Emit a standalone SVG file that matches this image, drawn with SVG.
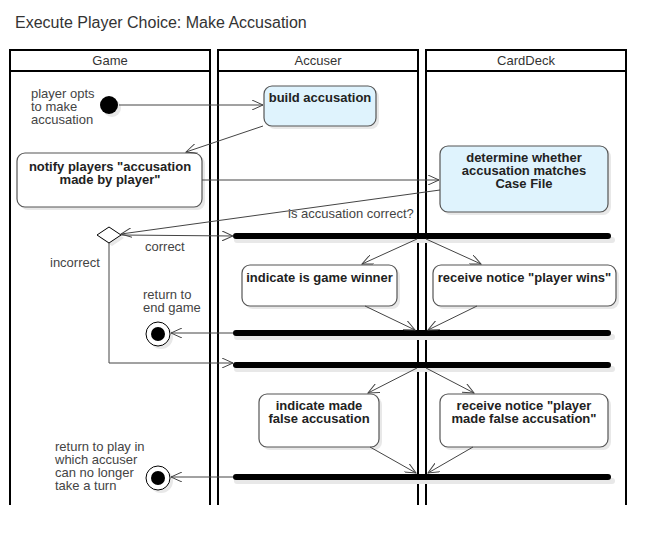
<svg xmlns="http://www.w3.org/2000/svg" width="666" height="546" viewBox="0 0 666 546">
<defs>
<style>
text{font-family:"Liberation Sans",Arial,sans-serif}
.title{font-size:16px;fill:#333}
.hdr{font-size:13px;fill:#333;text-anchor:middle}
.lbl{font-size:13px;fill:#444}
.nt{font-size:13px;font-weight:bold;fill:#222;text-anchor:middle}
.lane{fill:none;stroke:#000;stroke-width:2}
.node{stroke:#555;stroke-width:1.2}
.blue{fill:#dff3fd}
.white{fill:#fff}
.shadow{fill:#e8e8e8}
.bar{stroke:#000;stroke-width:6;stroke-linecap:round}
.barsh{stroke:#e8e8e8;stroke-width:6;stroke-linecap:round}
.edge{fill:none;stroke:#444;stroke-width:1;marker-end:url(#arr)}
</style>
<marker id="arr" viewBox="0 0 12 10" refX="11" refY="5" markerWidth="12" markerHeight="10" markerUnits="userSpaceOnUse" orient="auto">
<path d="M0,0 L11,5 L0,10" fill="none" stroke="#444" stroke-width="1"/>
</marker>
</defs>
<rect width="666" height="546" fill="#fff"/>
<text class="title" x="15" y="28">Execute Player Choice: Make Accusation</text>

<g id="lanes">
<g id="lane-game">
<path class="lane" d="M10,505 V50 H210 V505 M10,71 H210"/>
<text class="hdr" x="110" y="65">Game</text>
</g>
<g id="lane-accuser">
<path class="lane" d="M218,505 V50 H418 V505 M218,71 H418"/>
<text class="hdr" x="318" y="65">Accuser</text>
</g>
<g id="lane-carddeck">
<path class="lane" d="M426,505 V50 H626 V505 M426,71 H626"/>
<text class="hdr" x="526" y="65">CardDeck</text>
</g>
</g>

<g id="start">
<circle class="shadow" cx="112" cy="108" r="9"/>
<circle cx="109" cy="105" r="9" fill="#000"/>
<text class="lbl" x="31" y="98">player opts</text>
<text class="lbl" x="31" y="111">to make</text>
<text class="lbl" x="31" y="124">accusation</text>
</g>

<g id="build">
<rect class="shadow" x="267" y="89" width="112" height="40" rx="8"/>
<rect class="node blue" x="264" y="86" width="112" height="40" rx="8"/>
<text class="nt" x="320" y="102">build accusation</text>
</g>

<g id="notify">
<rect class="shadow" x="20" y="156" width="185" height="54" rx="8"/>
<rect class="node white" x="17" y="153" width="185" height="54" rx="8"/>
<text class="nt" x="110" y="171">notify players "accusation</text>
<text class="nt" x="110" y="184">made by player"</text>
</g>

<g id="determine">
<rect class="shadow" x="443" y="149" width="168" height="66" rx="8"/>
<rect class="node blue" x="440" y="146" width="168" height="66" rx="8"/>
<text class="nt" x="524" y="162">determine whether</text>
<text class="nt" x="524" y="175">accusation matches</text>
<text class="nt" x="524" y="188">Case File</text>
</g>

<g id="decision">
<polygon class="shadow" points="100,238 112,230 124,238 112,246"/>
<polygon points="97,235 109,227 121,235 109,243" fill="#fff" stroke="#000" stroke-width="1"/>
<text class="lbl" x="288" y="218">is accusation correct?</text>
<text class="lbl" x="145" y="251">correct</text>
<text class="lbl" x="50" y="267">incorrect</text>
</g>

<g id="fork1">
<line class="barsh" x1="237" y1="240" x2="612" y2="240"/>
<line class="bar" x1="236" y1="236" x2="608" y2="236"/>
</g>

<g id="winner">
<rect class="shadow" x="245" y="268" width="155" height="41" rx="8"/>
<rect class="node white" x="242" y="265" width="155" height="41" rx="8"/>
<text class="nt" x="319.5" y="282">indicate is game winner</text>
</g>

<g id="wins">
<rect class="shadow" x="436" y="268" width="183" height="41" rx="8"/>
<rect class="node white" x="433" y="265" width="183" height="41" rx="8"/>
<text class="nt" x="524.5" y="282">receive notice "player wins"</text>
</g>

<g id="join1">
<line class="barsh" x1="237" y1="337" x2="612" y2="337"/>
<line class="bar" x1="236" y1="333" x2="608" y2="333"/>
</g>

<g id="end1">
<circle class="shadow" cx="161" cy="337" r="12"/>
<circle cx="158" cy="334" r="12" fill="#fff" stroke="#000" stroke-width="1"/>
<circle cx="158" cy="334" r="7" fill="#000"/>
<text class="lbl" x="143" y="299">return to</text>
<text class="lbl" x="143" y="312">end game</text>
</g>

<g id="fork2">
<line class="barsh" x1="237" y1="369" x2="612" y2="369"/>
<line class="bar" x1="236" y1="365" x2="608" y2="365"/>
</g>

<g id="falseacc">
<rect class="shadow" x="262" y="397" width="120" height="53" rx="8"/>
<rect class="node white" x="259" y="394" width="120" height="53" rx="8"/>
<text class="nt" x="319" y="410">indicate made</text>
<text class="nt" x="319" y="423">false accusation</text>
</g>

<g id="noticefalse">
<rect class="shadow" x="443" y="397" width="168" height="53" rx="8"/>
<rect class="node white" x="440" y="394" width="168" height="53" rx="8"/>
<text class="nt" x="524" y="410">receive notice "player</text>
<text class="nt" x="524" y="423">made false accusation"</text>
</g>

<g id="join2">
<line class="barsh" x1="237" y1="481" x2="612" y2="481"/>
<line class="bar" x1="236" y1="477" x2="608" y2="477"/>
</g>

<g id="end2">
<circle class="shadow" cx="161" cy="481" r="12"/>
<circle cx="158" cy="478" r="12" fill="#fff" stroke="#000" stroke-width="1"/>
<circle cx="158" cy="478" r="7" fill="#000"/>
<text class="lbl" x="55" y="451">return to play in</text>
<text class="lbl" x="55" y="464">which accuser</text>
<text class="lbl" x="55" y="477">can no longer</text>
<text class="lbl" x="55" y="490">take a turn</text>
</g>

<g id="connectors">
<path class="edge" d="M119,105 H263"/>
<path class="edge" d="M263,126 L186,152"/>
<path class="edge" d="M202,180 H439"/>
<path class="edge" d="M440,190 L121,234"/>
<path class="edge" d="M121,235 L233,236"/>
<path class="edge" d="M109,243 V363 H233"/>
<path class="edge" d="M417,239 L362,264"/>
<path class="edge" d="M426,239 L481,264"/>
<path class="edge" d="M365,306 L415,330"/>
<path class="edge" d="M477,306 L428,330"/>
<path class="edge" d="M233,333 H171"/>
<path class="edge" d="M417,368 L368,393"/>
<path class="edge" d="M426,368 L474,393"/>
<path class="edge" d="M370,447 L416,473"/>
<path class="edge" d="M473,447 L428,473"/>
<path class="edge" d="M233,477 H171"/>
</g>
</svg>
